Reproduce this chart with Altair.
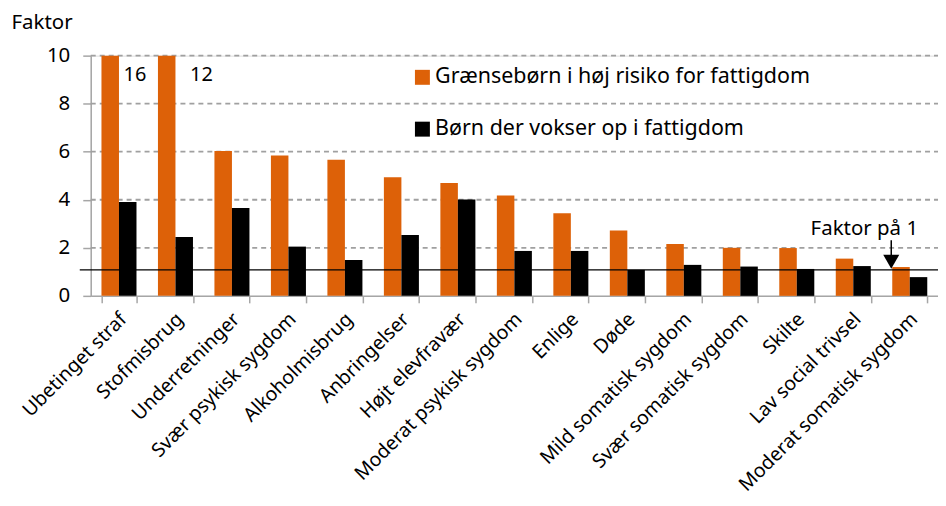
import altair as alt
import pandas as pd

categories = ["Ubetinget straf", "Stofmisbrug", "Underretninger", "Svær psykisk sygdom",
              "Alkoholmisbrug", "Anbringelser", "Højt elevfravær", "Moderat psykisk sygdom",
              "Enlige", "Døde", "Mild somatisk sygdom", "Svær somatisk sygdom", "Skilte",
              "Lav social trivsel", "Moderat somatisk sygdom"]
series = ["Grænsebørn i høj risiko for fattigdom", "Børn der vokser op i fattigdom"]
graense = [16, 12, 6.03, 5.84, 5.67, 4.94, 4.70, 4.18, 3.44, 2.72, 2.16, 2.00, 1.99, 1.55, 1.20]
fattig = [3.91, 2.45, 3.66, 2.05, 1.49, 2.53, 4.01, 1.87, 1.87, 1.08, 1.29, 1.22, 1.12, 1.24, 0.78]
colors = ["#DD6108", "#000000"]
y_ticks = [0, 2, 4, 6, 8, 10]
grid_values = [2, 4, 6, 8, 10]

# cut-off labels for bars above axis maximum
cut_cats = ["Ubetinget straf", "Stofmisbrug"]
cut_labels = ["16", "12"]
cut_label_y = [9.2, 9.2]

ref_value = [1.08]
annot_text = "Faktor på 1"
annot_cat = "Moderat somatisk sygdom"
arrow_top = [2.32]
arrow_tip = [1.42]

FONT = "Noto Sans"
W, H = 850, 241

rows = []
for c, a, b in zip(categories, graense, fattig):
    rows.append({"kategori": c, "serie": series[0], "faktor": a})
    rows.append({"kategori": c, "serie": series[1], "faktor": b})
df = pd.DataFrame(rows)

xscale = alt.Scale(domain=categories, paddingInner=0.38, paddingOuter=0.19)
yscale = alt.Scale(domain=[0, 10], clamp=True, nice=False)

xaxis = alt.Axis(title=None, labelAngle=-45, labelAlign="right", labelBaseline="middle",
                 labelFontSize=19.5, labelFont=FONT, labelColor="#000", labelPadding=13,
                 labelOffset=4,
                 tickBand="extent", tickSize=7, tickColor="#a6a6a6", tickWidth=1.5,
                 domainColor="#a6a6a6", domainWidth=1.5, grid=False, labelLimit=400)
yaxis = alt.Axis(values=y_ticks, title="Faktor", titleAngle=0, titleAlign="left",
                 titleBaseline="middle", titleX=-80, titleY=-33, titleFontSize=20.5,
                 titleFontWeight="normal", titleFont=FONT, titleColor="#000",
                 labelFontSize=20.5, labelFont=FONT, labelColor="#000", labelPadding=13,
                 tickSize=8, tickColor="#a6a6a6", tickWidth=1.5,
                 domainColor="#a6a6a6", domainWidth=1.5, grid=False)


def X(field, **kw):
    return alt.X(field, scale=xscale, sort=categories, axis=xaxis, **kw)


def Y(field):
    return alt.Y(field, scale=yscale, axis=yaxis)


grid = alt.Chart(pd.DataFrame({"g": grid_values})).mark_rule(
    color="#a0a0a0", strokeWidth=1.8, strokeDash=[5, 4]).encode(
    y=Y("g:Q"), x=alt.value(0), x2=alt.value(W))

bars = alt.Chart(df).mark_bar().encode(
    x=X("kategori:N"),
    xOffset=alt.XOffset("serie:N", sort=series, scale=alt.Scale(domain=series, paddingInner=0)),
    y=Y("faktor:Q"),
    color=alt.Color("serie:N", sort=series, scale=alt.Scale(domain=series, range=colors),
                    legend=alt.Legend(title=None, orient="none", legendX=322, legendY=11,
                                      symbolType="square", symbolSize=225, symbolStrokeWidth=0,
                                      labelFontSize=21.5, labelFont=FONT, labelColor="#000",
                                      rowPadding=29, labelOffset=2, labelLimit=500)),
)

ref_df = pd.DataFrame({"v": ref_value})
ref_rule = alt.Chart(ref_df).mark_rule(color="#000", strokeWidth=1.3).encode(
    y=Y("v:Q"), x=alt.value(-11), x2=alt.value(W))

lab_df = pd.DataFrame({"kategori": cut_cats, "t": cut_labels, "y": cut_label_y})
lab1 = alt.Chart(lab_df.iloc[[0]]).mark_text(fontSize=20, font=FONT, color="#000", dx=16).encode(
    x=X("kategori:N"), y=Y("y:Q"), text="t:N")
lab2 = alt.Chart(lab_df.iloc[[1]]).mark_text(fontSize=20, font=FONT, color="#000", dx=26).encode(
    x=X("kategori:N"), y=Y("y:Q"), text="t:N")

ann_df = pd.DataFrame({"kategori": [annot_cat], "top": arrow_top, "tip": arrow_tip, "t": [annot_text]})
arrow_line = alt.Chart(ann_df).mark_rule(color="#000", strokeWidth=1.5, xOffset=-1).encode(
    x=X("kategori:N", bandPosition=0), y=Y("top:Q"), y2="tip:Q")
arrow_head = alt.Chart(ann_df).mark_point(shape="triangle-down", filled=True, color="#000",
                                          size=260, opacity=1, xOffset=-1).encode(
    x=X("kategori:N", bandPosition=0), y=Y("tip:Q"))
ann_text = alt.Chart(ann_df).mark_text(fontSize=20.5, font=FONT, color="#000", dx=-28,
                                       baseline="bottom", dy=-1).encode(
    x=X("kategori:N", bandPosition=0), y=Y("top:Q"), text="t:N")

chart = alt.layer(grid, bars, ref_rule, lab1, lab2, arrow_line, arrow_head, ann_text).properties(
    width=W, height=H, autosize=alt.AutoSizeParams(type="none"),
    padding={"left": 83, "top": 47, "right": 0, "bottom": 202},
).configure_view(stroke=None).configure(background="white")

chart.save("out.html", embed_options={"renderer": "svg", "actions": False})
